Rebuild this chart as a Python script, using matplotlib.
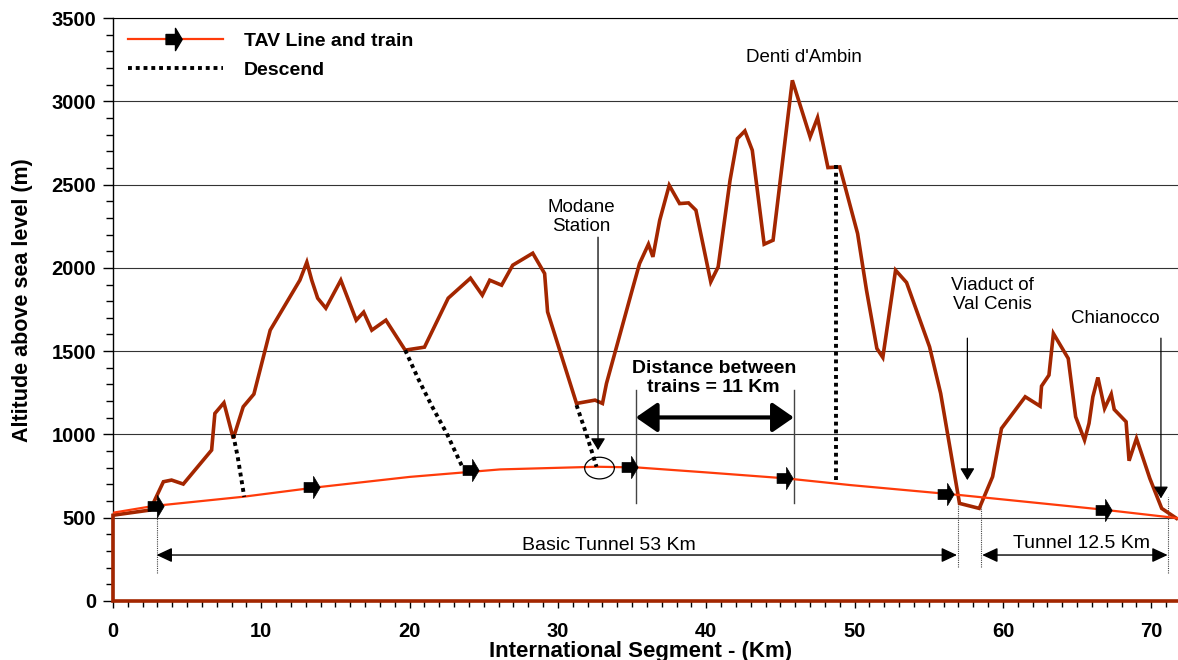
import numpy as np
import matplotlib.pyplot as plt
from matplotlib.path import Path
from matplotlib.markers import MarkerStyle
from matplotlib.lines import Line2D
from matplotlib.patches import Ellipse

plt.rcParams['font.family'] = ['Liberation Sans', 'DejaVu Sans']

# Mountain profile above the tunnel (km, m)
profile_x = [71.8, 0, 0, 2.5, 3.4, 3.95, 4.74, 6.65, 6.87, 7.48, 8.11, 8.78, 9.5,
             10.6, 12.6, 13.07, 13.4, 13.8, 14.35, 15.36, 16.4, 16.9, 17.45, 18.4,
             19.7, 21.0, 22.6, 24.1, 24.9, 25.4, 26.2, 26.95, 28.3, 29.1, 29.3,
             31.25, 32.5, 33.0, 33.27, 35.0, 35.5, 36.1, 36.4, 36.86, 37.5, 38.2,
             38.8, 39.3, 40.3, 40.8, 41.6, 42.1, 42.6, 43.1, 43.9, 44.5, 45.8,
             47.0, 47.5, 48.2, 49.0, 50.2, 50.8, 51.5, 51.9, 52.76, 53.5, 55.05,
             55.8, 57.07, 58.4, 59.3, 59.9, 61.5, 62.5, 62.6, 63.1, 63.4, 64.4,
             64.9, 65.5, 65.8, 66.06, 66.4, 66.85, 67.3, 67.5, 68.3, 68.5, 69.0,
             69.9, 70.7, 71.7]
profile_y = [0, 0, 515, 546, 716, 726, 702, 906, 1126, 1190, 976, 1166, 1242,
             1626, 1926, 2034, 1926, 1818, 1758, 1926, 1686, 1734, 1626, 1686,
             1506, 1524, 1818, 1938, 1836, 1926, 1896, 2016, 2088, 1966, 1736,
             1186, 1206, 1186, 1306, 1866, 2026, 2142, 2066, 2286, 2496, 2386,
             2390, 2346, 1916, 2006, 2526, 2776, 2822, 2706, 2142, 2166, 3126,
             2786, 2902, 2602, 2606, 2206, 1866, 1516, 1462, 1986, 1912, 1526,
             1246, 586, 556, 746, 1036, 1226, 1170, 1290, 1356, 1606, 1456,
             1106, 966, 1066, 1226, 1342, 1156, 1242, 1150, 1076, 842, 976,
             736, 556, 496]

# TAV line
tav_x = [0, 2.7, 8.8, 13.7, 20.0, 26.1, 32.6, 35.3, 40.0, 45.4, 49.7, 57.1, 66.6, 71.8]
tav_y = [530, 570, 626, 682, 745, 790, 806, 802, 772, 736, 696, 636, 550, 497]

# trains on the line
train_x = [2.95, 13.5, 24.2, 34.95, 45.4, 56.2, 66.85]
train_y = [570, 684, 786, 802, 740, 645, 548]

# descend paths
descend_lines = [
    ([8.1, 8.4, 8.85], [1000, 870, 625]),
    ([19.7, 20.6, 21.5, 22.5, 23.6], [1506, 1330, 1170, 1006, 796]),
    ([31.25, 31.9, 32.6], [1176, 1006, 806]),
    ([48.77, 48.77], [2616, 725]),
]

prof_color = '#A32600'
tav_color = '#FF3B0A'

# train marker: square body + arrow head
verts = [(-0.85, -0.45), (0, -0.45), (0, 0.45), (-0.85, 0.45), (-0.85, -0.45),
         (0, -1), (0.6, 0), (0, 1), (0, -1)]
codes = [Path.MOVETO, Path.LINETO, Path.LINETO, Path.LINETO, Path.CLOSEPOLY,
         Path.MOVETO, Path.LINETO, Path.LINETO, Path.CLOSEPOLY]
train_marker = MarkerStyle(Path(verts, codes))

fig = plt.figure(figsize=(11.78, 6.6), dpi=100)
ax = fig.add_axes([0.0959, 0.0894, 0.9041, 0.8833])

ax.set_xlim(0, 71.8)
ax.set_ylim(0, 3500)
ax.set_xticks(np.arange(0, 71, 10))
ax.set_xticks(np.arange(0, 72, 1), minor=True)
ax.set_yticks(np.arange(0, 3501, 500))
ax.set_yticks(np.arange(0, 3501, 100), minor=True)
ax.yaxis.grid(True, color='#333333', lw=0.8)
ax.set_axisbelow(True)
ax.spines['right'].set_visible(False)
ax.spines['left'].set_linewidth(1)
ax.tick_params(axis='x', which='major', direction='out', length=5, width=1, pad=10,
               labelsize=14.5)
ax.tick_params(axis='x', which='minor', direction='out', length=4, width=1)
ax.tick_params(axis='y', which='major', direction='out', length=7, width=1, pad=5,
               labelsize=14.5)
ax.tick_params(axis='y', which='minor', direction='out', length=5, width=1)
for lab in ax.get_xticklabels() + ax.get_yticklabels():
    lab.set_fontweight('bold')

ax.plot(profile_x, profile_y, color=prof_color, lw=2.6, clip_on=False, zorder=3,
        solid_joinstyle='miter')
ax.plot(tav_x, tav_y, color=tav_color, lw=1.6, zorder=4)
ax.plot(train_x, train_y, ls='none', marker=train_marker, ms=16, mfc='black',
        mec='black', mew=0.5, zorder=6)

for dx, dy in descend_lines:
    ax.plot(dx, dy, color='black', lw=2.8, ls=(0, (1, 1)), zorder=5)

# tunnel boundary markers
for vx, y0, y1 in [(2.94, 168, 648), (56.95, 204, 624), (58.55, 204, 624), (71.1, 168, 624)]:
    ax.plot([vx, vx], [y0, y1], color='#444444', lw=0.8, ls=(0, (1, 1)), zorder=2)

dbl = dict(arrowstyle='<|-|>,head_length=0.47,head_width=0.22', mutation_scale=20,
           lw=1.0, color='black', shrinkA=0, shrinkB=0)
ax.annotate('', xy=(56.9, 276), xytext=(2.94, 276), arrowprops=dbl)
ax.annotate('', xy=(71.1, 276), xytext=(58.6, 276), arrowprops=dbl)
ax.text(33.4, 336, 'Basic Tunnel 53 Km', ha='center', va='center', fontsize=14)
ax.text(65.3, 348, 'Tunnel 12.5 Km', ha='center', va='center', fontsize=14)

# distance between trains
for vx in [35.25, 45.9]:
    ax.plot([vx, vx], [588, 1266], color='#444444', lw=1.0, zorder=2)
ax.annotate('', xy=(45.9, 1102), xytext=(35.25, 1102),
            arrowprops=dict(arrowstyle='<|-|>,head_length=0.65,head_width=0.45',
                            mutation_scale=20, lw=3, color='black',
                            shrinkA=0, shrinkB=0))
ax.text(40.5, 1338, 'Distance between\ntrains = 11 Km', ha='center', va='center',
        fontsize=14, fontweight='bold', linespacing=1.15)

# place names
one = dict(arrowstyle='-|>,head_length=0.36,head_width=0.22', mutation_scale=20,
           lw=0.9, color='black', shrinkA=0, shrinkB=0)
ax.annotate('', xy=(32.7, 906), xytext=(32.7, 2184), arrowprops=one)
ax.text(31.6, 2304, 'Modane\nStation', ha='center', va='center', fontsize=13.5,
        linespacing=1.15)
ax.add_patch(Ellipse((32.8, 798), 2.0, 130, fill=False, ec='black', lw=0.9, zorder=5))

ax.annotate('', xy=(57.6, 726), xytext=(57.6, 1578), arrowprops=one)
ax.text(59.3, 1836, 'Viaduct of\nVal Cenis', ha='center', va='center', fontsize=13.5,
        linespacing=1.15)

ax.annotate('', xy=(70.65, 616), xytext=(70.65, 1578), arrowprops=one)
ax.text(67.6, 1698, 'Chianocco', ha='center', va='center', fontsize=13.5)

ax.text(46.6, 3264, "Denti d'Ambin", ha='center', va='center', fontsize=13.5)

ax.set_xlabel('International Segment - (Km)', fontsize=16, fontweight='bold')
ax.xaxis.set_label_coords(0.495, -0.069)
ax.set_ylabel('Altitude above sea level (m)', fontsize=15.5, fontweight='bold')
ax.yaxis.set_label_coords(-0.075, 0.516)

handles = [Line2D([], [], color=tav_color, lw=1.6, marker=train_marker, ms=16,
                  mfc='black', mec='black'),
           Line2D([], [], color='black', lw=2.8, ls=(0, (1, 1)))]
leg = ax.legend(handles, ['TAV Line and train', 'Descend'], loc='upper left',
                frameon=False, handlelength=4.9, handletextpad=1.1,
                borderaxespad=0.35, labelspacing=0.55,
                prop={'size': 14, 'weight': 'bold'})

fig.savefig('out.png', dpi=100)
